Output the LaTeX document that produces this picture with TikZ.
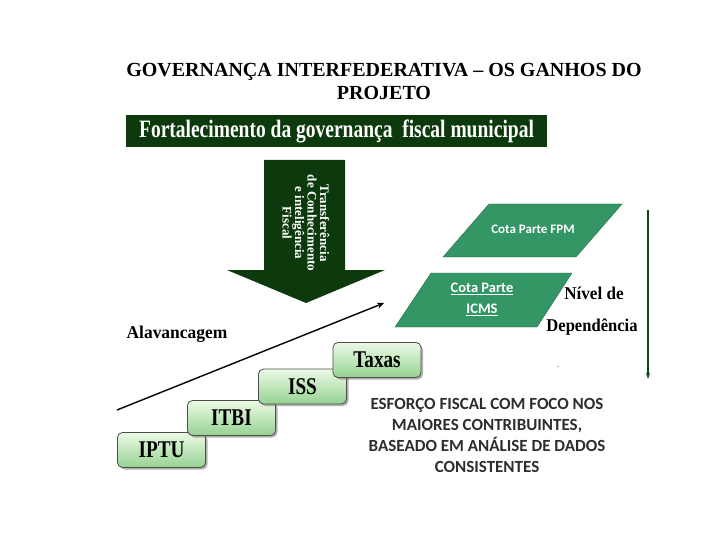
\documentclass[tikz,border=0pt]{standalone}
\usepackage{fontspec}
\setmainfont{Liberation Serif}
\newfontfamily\carl{Carlito}
\usetikzlibrary{shadows,arrows.meta}
\definecolor{darkg}{RGB}{12,58,12}
\definecolor{midg}{RGB}{52,150,100}
\definecolor{lightg}{RGB}{236,250,230}
\definecolor{stepg}{RGB}{150,210,145}
\definecolor{txtg}{RGB}{45,45,45}
\tikzset{
  stepbox/.style={draw=black!70, line width=0.8pt, rounded corners=5pt, minimum width=88pt, minimum height=35pt,
    top color=lightg, bottom color=stepg, drop shadow={shadow xshift=2pt, shadow yshift=-2pt, fill=black!60},
    font=\bfseries\fontsize{24}{24}\selectfont, inner sep=0pt},
  para/.style={fill=midg, draw=midg!70!black, line width=0.4pt},
  paratxt/.style={text=white, font=\carl\bfseries\fontsize{13}{21}\selectfont, align=center},
  serifb/.style={font=\bfseries\fontsize{18}{18}\selectfont, inner sep=0pt},
}
\begin{document}
\begin{tikzpicture}[x=1pt,y=-1pt]
\useasboundingbox (0,0) rectangle (720,540);
% title
\node[font=\bfseries\fontsize{20}{23}\selectfont, align=center] (title) at (384,81) {GOVERNANÇA INTERFEDERATIVA -- OS GANHOS DO\\PROJETO};
% banner
\node[fill=darkg, text=white, minimum width=421pt, minimum height=32pt, inner sep=0pt] (banner) at (336.5,131)
  {\scalebox{0.78}[1]{\bfseries\fontsize{25}{25}\selectfont Fortalecimento da governança\ \ fiscal municipal}};
% big arrow
\fill[darkg] (264,160) -- (345,160) -- (345,270) -- (385,270) -- (306,303) -- (227,270) -- (264,270) -- cycle;
\node[rotate=-90, text=white, align=center, font=\bfseries\fontsize{13}{12.5}\selectfont, inner sep=0pt] (arrtxt) at (306,223)
  {Transferência\\de Conhecimento\\e inteligência\\Fiscal};
% steps
\node[stepbox] (iptu) at (161.5,450) {\scalebox{0.8}[1]{IPTU}};
\node[stepbox] (itbi) at (231.5,418) {\scalebox{0.8}[1]{ITBI}};
\node[stepbox] (iss) at (302.5,386.5) {\scalebox{0.8}[1]{ISS}};
\node[stepbox] (taxas) at (377,360) {\scalebox{0.8}[1]{Taxas}};
% leverage arrow
\coordinate (lvA) at (117,410);
\coordinate (lvB) at (384,303);
\draw[line width=1.4pt, -{Stealth[length=7pt,width=6pt]}] (lvA) -- (lvB);
\node[serifb] (alav) at (177,334) {\scalebox{0.97}[1]{Alavancagem}};
% parallelograms
\filldraw[para] (489,204) -- (622,204) -- (576,257) -- (443,257) -- cycle;
\node[paratxt] (fpm) at (533,229) {Cota Parte FPM};
\filldraw[para] (431,273) -- (572,273) -- (537,327) -- (395,327) -- cycle;
\node[paratxt, font=\carl\bfseries\fontsize{14.5}{21}\selectfont] (icms) at (482,299) {\underline{Cota Parte}\\\underline{ICMS}};
% dependence
\node[serifb] (nivel) at (594,293) {\scalebox{0.95}[1]{Nível de}};
\node[serifb] (dep) at (592,327) {\scalebox{0.92}[1]{Dependência}};
\node[font=\fontsize{8}{8}\selectfont, inner sep=0pt] (dot) at (558,367) {.};
\coordinate (vA) at (648,210);
\coordinate (vB) at (648,379);
\draw[darkg!90!green, line width=1.3pt, -{Stealth[length=6pt,width=4pt]}] (vA) -- (vB);
% bottom text
\node[text=txtg, align=center, font=\carl\bfseries\fontsize{17}{21}\selectfont] (esf) at (487,435)
  {ESFORÇO FISCAL COM FOCO NOS\\MAIORES CONTRIBUINTES,\\BASEADO EM ANÁLISE DE DADOS\\CONSISTENTES};
\end{tikzpicture}
\end{document}
